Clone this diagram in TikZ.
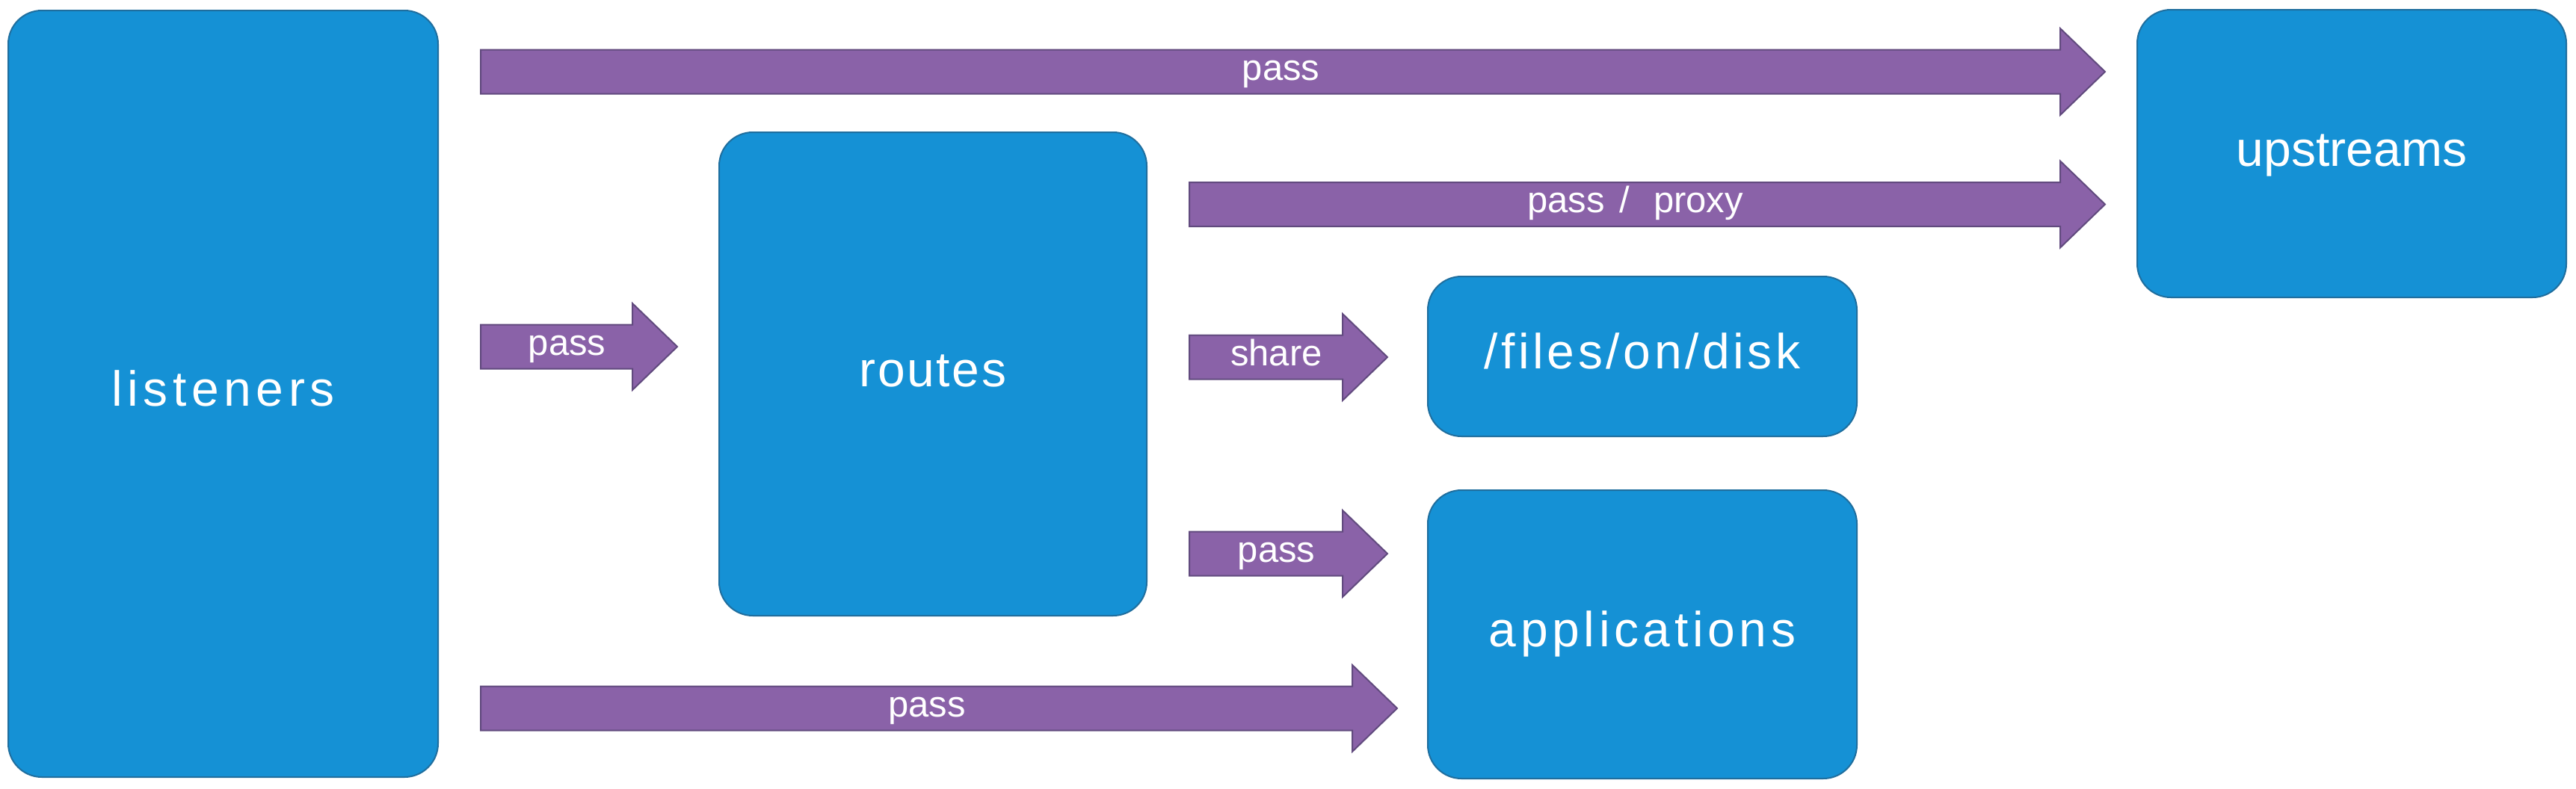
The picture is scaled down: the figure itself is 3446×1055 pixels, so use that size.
\documentclass[tikz,border=0pt]{standalone}
\usepackage{fontspec}
\setmainfont{Liberation Sans}
\usetikzlibrary{calc}
\definecolor{boxblue}{HTML}{1591D5}
\definecolor{boxedge}{HTML}{1F6E9E}
\definecolor{arrfill}{HTML}{8A62A8}
\definecolor{arredge}{HTML}{614A7E}
\tikzset{
  box/.style={draw=boxedge, line width=2pt, fill=boxblue, rounded corners=45pt,
    inner sep=0pt, text=white, font=\fontsize{66}{70}\selectfont,
    text height=47pt, text depth=14pt},
  blockarrow/.style={draw=arredge, line width=2pt, fill=arrfill, line join=miter},
  arrlabel/.style={text=white, font=\fontsize{49}{55}\selectfont, inner sep=0pt,
    text height=22pt, text depth=0pt},
}
\newcommand{\blockarr}[4]{%
  \draw[blockarrow] ($(#2)+(0,-29.5)$) -- ($(#3)+(-60,-29.5)$) -- ($(#3)+(-60,-58)$)
    -- (#3) -- ($(#3)+(-60,58)$) -- ($(#3)+(-60,29.5)$) -- ($(#2)+(0,29.5)$) -- cycle;
  \node[arrlabel] (#1) at ($($(#2)!0.5!(#3)$)+(-16,0)$) {#4};}
\begin{document}
\begin{tikzpicture}[x=1pt, y=-1pt]
\useasboundingbox (0,0) rectangle (3446,1055);
\fill[white] (0,0) rectangle (3446,1055);

\node[box, minimum width=575pt, minimum height=1026pt] (listeners) at (298.5,527)
  {\addfontfeatures{LetterSpace=10}listeners};
\node[box, minimum width=572pt, minimum height=647pt] (routes) at (1248,500.5)
  {\addfontfeatures{LetterSpace=4}routes};
\node[box, minimum width=574pt, minimum height=385pt] (upstreams) at (3146,205.5)
  {upstreams};
\node[box, minimum width=574pt, minimum height=214pt] (files) at (2197,477)
  {\addfontfeatures{LetterSpace=7}/files/on/disk};
\node[box, minimum width=574pt, minimum height=386pt] (applications) at (2197,849)
  {\addfontfeatures{LetterSpace=8.5}applications};

% arrow end points
\coordinate (a1s) at ([xshift=56pt]listeners.east |- 0,96);
\coordinate (a1e) at ([xshift=-42pt]upstreams.west |- 0,96);
\coordinate (a2s) at ([xshift=56pt]listeners.east |- 0,464);
\coordinate (a2e) at ([xshift=-55pt]routes.west |- 0,464);
\coordinate (a3s) at ([xshift=56pt]routes.east |- 0,273.5);
\coordinate (a3e) at ([xshift=-42pt]upstreams.west |- 0,273.5);
\coordinate (a4s) at ([xshift=56pt]routes.east |- 0,478);
\coordinate (a4e) at ([xshift=-53pt]files.west |- 0,478);
\coordinate (a5s) at ([xshift=56pt]routes.east |- 0,741);
\coordinate (a5e) at ([xshift=-53pt]applications.west |- 0,741);
\coordinate (a6s) at ([xshift=56pt]listeners.east |- 0,948);
\coordinate (a6e) at ([xshift=-40pt]applications.west |- 0,948);

\blockarr{l1}{a1s}{a1e}{pass}
\blockarr{l2}{a2s}{a2e}{pass}
\blockarr{l3}{a3s}{a3e}{pass\hspace{20pt}/\hspace{32pt}proxy}
\blockarr{l4}{a4s}{a4e}{share}
\blockarr{l5}{a5s}{a5e}{pass}
\blockarr{l6}{a6s}{a6e}{pass}
\end{tikzpicture}
\end{document}
